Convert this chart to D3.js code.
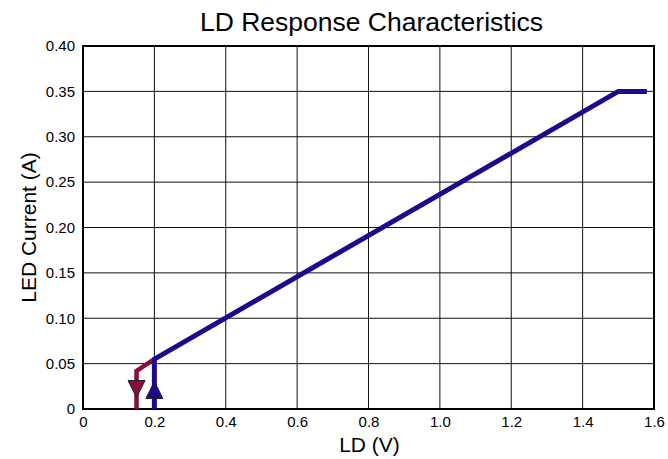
<!DOCTYPE html>
<html>
<head>
<meta charset="utf-8">
<script src="https://cdn.jsdelivr.net/npm/d3@7"></script>
<style>
  body { margin: 0; background: #fff; }
  text { font-family: "Liberation Sans", Arial, sans-serif; }
</style>
</head>
<body>
<div id="chart"></div>
<script>
// Data
const xTicks = [0, 0.2, 0.4, 0.6, 0.8, 1.0, 1.2, 1.4, 1.6];
const xTickLabels = ['0', '0.2', '0.4', '0.6', '0.8', '1.0', '1.2', '1.4', '1.6'];
const yTicks = [0, 0.05, 0.10, 0.15, 0.20, 0.25, 0.30, 0.35, 0.40];
const yTickLabels = ['0', '0.05', '0.10', '0.15', '0.20', '0.25', '0.30', '0.35', '0.40'];

// rising (blue) and falling (red) branches
const riseV = [0.2, 0.2, 1.5, 1.58];
const riseI = [0, 0.055, 0.35, 0.35];
const fallV = [0.15, 0.15, 0.2];
const fallI = [0, 0.042, 0.055];

// arrow markers: [V, I at centre]
const riseArrow = [0.2, 0.021];
const fallArrow = [0.15, 0.022];

const margin = {top: 46, right: 14, bottom: 50, left: 83};
const W = 668, H = 459;
const width = W - margin.left - margin.right;
const height = H - margin.top - margin.bottom;

const x = d3.scaleLinear().domain([0, 1.6]).range([0, width]);
const y = d3.scaleLinear().domain([0, 0.4]).range([height, 0]);
const line = d3.line().x(d => x(d[0])).y(d => y(d[1]));

const svg = d3.select('#chart').append('svg')
  .attr('width', W)
  .attr('height', H);

const chart = svg.append('g')
  .attr('transform', 'translate(' + margin.left + ',' + margin.top + ')');

// grid
chart.selectAll('.vgrid').data(xTicks).enter().append('line')
  .attr('x1', d => x(d)).attr('x2', d => x(d))
  .attr('y1', 0).attr('y2', height)
  .attr('stroke', '#111').attr('stroke-width', 1);
chart.selectAll('.hgrid').data(yTicks).enter().append('line')
  .attr('x1', 0).attr('x2', width)
  .attr('y1', d => y(d)).attr('y2', d => y(d))
  .attr('stroke', '#111').attr('stroke-width', 1);

// tick labels via d3 axes, no lines
const xAxis = d3.axisBottom(x).tickValues(xTicks)
  .tickFormat((d, i) => xTickLabels[i]).tickSize(0).tickPadding(7);
const yAxis = d3.axisLeft(y).tickValues(yTicks)
  .tickFormat((d, i) => yTickLabels[i]).tickSize(0).tickPadding(8);

const gx = chart.append('g').attr('transform', 'translate(0,' + height + ')').call(xAxis);
const gy = chart.append('g').call(yAxis);
[gx, gy].forEach(g => {
  g.select('.domain').remove();
  g.selectAll('text').attr('font-size', 15).attr('fill', '#000')
    .attr('font-family', '"Liberation Sans", Arial, sans-serif');
});

// frame
chart.append('rect')
  .attr('x', 0).attr('y', 0).attr('width', width).attr('height', height)
  .attr('fill', 'none').attr('stroke', '#000').attr('stroke-width', 2);

// curves
const blue = '#1c0a8c';
const red = '#8a0c3e';
chart.append('path')
  .datum(fallV.map((v, i) => [v, fallI[i]]))
  .attr('d', line)
  .attr('fill', 'none').attr('stroke', red).attr('stroke-width', 4.5);
chart.append('path')
  .datum(riseV.map((v, i) => [v, riseI[i]]))
  .attr('d', line)
  .attr('fill', 'none').attr('stroke', blue).attr('stroke-width', 5);

// arrows
const tri = 8.5;
chart.append('path')
  .attr('transform', 'translate(' + x(fallArrow[0]) + ',' + y(fallArrow[1]) + ')')
  .attr('d', 'M' + (-tri) + ',' + (-tri) + 'L' + tri + ',' + (-tri) + 'L0,' + tri + 'Z')
  .attr('fill', red).attr('stroke', '#222').attr('stroke-width', 1);
chart.append('path')
  .attr('transform', 'translate(' + x(riseArrow[0]) + ',' + y(riseArrow[1]) + ')')
  .attr('d', 'M' + (-tri) + ',' + tri + 'L' + tri + ',' + tri + 'L0,' + (-tri) + 'Z')
  .attr('fill', blue).attr('stroke', '#222').attr('stroke-width', 1);

// titles
svg.append('text')
  .attr('x', margin.left + width / 2 + 3).attr('y', 31)
  .attr('text-anchor', 'middle').attr('font-size', 26.5)
  .text('LD Response Characteristics');
svg.append('text')
  .attr('x', margin.left + width / 2 + 1).attr('y', 452)
  .attr('text-anchor', 'middle').attr('font-size', 21)
  .text('LD (V)');
svg.append('text')
  .attr('transform', 'translate(36,' + (margin.top + height / 2) + ') rotate(-90)')
  .attr('text-anchor', 'middle').attr('font-size', 21)
  .text('LED Current (A)');
</script>
</body>
</html>
